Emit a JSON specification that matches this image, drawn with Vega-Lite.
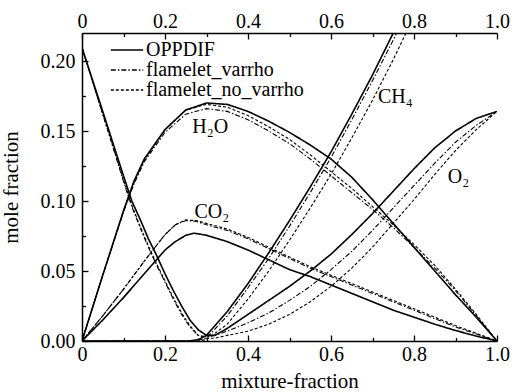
{
  "$schema": "https://vega.github.io/schema/vega-lite/v6.json",
  "width": 415,
  "height": 308,
  "autosize": {"type": "none"},
  "padding": {"left": 82, "top": 33, "right": 25, "bottom": 51},
  "background": "white",
  "config": {
    "view": {"stroke": null},
    "axis": {
      "grid": false,
      "domainColor": "black",
      "domainWidth": 1.5,
      "tickColor": "black",
      "tickWidth": 1.3,
      "labelFont": "Liberation Serif",
      "labelFontSize": 20,
      "labelColor": "black",
      "titleFont": "Liberation Serif",
      "titleFontSize": 21,
      "titleFontWeight": "normal",
      "titleColor": "black",
      "labelFlush": false,
      "labelOverlap": false
    }
  },
  "resolve": {"axis": {"x": "independent", "y": "independent"}},
  "datasets": {
    "curves": [
      {"s":"O2","m":"OPPDIF","x":0,"y":0.2095},{"s":"O2","m":"OPPDIF","x":0.05,"y":0.164},{"s":"O2","m":"OPPDIF","x":0.1,"y":0.118},{"s":"O2","m":"OPPDIF","x":0.12,"y":0.1},{"s":"O2","m":"OPPDIF","x":0.14,"y":0.087},{"s":"O2","m":"OPPDIF","x":0.16,"y":0.073},{"s":"O2","m":"OPPDIF","x":0.18,"y":0.061},{"s":"O2","m":"OPPDIF","x":0.2,"y":0.048},{"s":"O2","m":"OPPDIF","x":0.22,"y":0.036},{"s":"O2","m":"OPPDIF","x":0.24,"y":0.025},{"s":"O2","m":"OPPDIF","x":0.26,"y":0.015},{"s":"O2","m":"OPPDIF","x":0.28,"y":0.008},{"s":"O2","m":"OPPDIF","x":0.3,"y":0.004},{"s":"O2","m":"OPPDIF","x":0.32,"y":0.004},{"s":"O2","m":"OPPDIF","x":0.35,"y":0.009},{"s":"O2","m":"OPPDIF","x":0.4,"y":0.019},{"s":"O2","m":"OPPDIF","x":0.45,"y":0.029},{"s":"O2","m":"OPPDIF","x":0.5,"y":0.039},{"s":"O2","m":"OPPDIF","x":0.55,"y":0.05},{"s":"O2","m":"OPPDIF","x":0.6,"y":0.062},{"s":"O2","m":"OPPDIF","x":0.65,"y":0.076},{"s":"O2","m":"OPPDIF","x":0.7,"y":0.091},{"s":"O2","m":"OPPDIF","x":0.75,"y":0.107},{"s":"O2","m":"OPPDIF","x":0.8,"y":0.123},{"s":"O2","m":"OPPDIF","x":0.85,"y":0.138},{"s":"O2","m":"OPPDIF","x":0.9,"y":0.15},{"s":"O2","m":"OPPDIF","x":0.95,"y":0.159},{"s":"O2","m":"OPPDIF","x":1,"y":0.164},
      {"s":"O2","m":"flamelet_varrho","x":0,"y":0.2095},{"s":"O2","m":"flamelet_varrho","x":0.05,"y":0.162},{"s":"O2","m":"flamelet_varrho","x":0.1,"y":0.114},{"s":"O2","m":"flamelet_varrho","x":0.12,"y":0.096},{"s":"O2","m":"flamelet_varrho","x":0.14,"y":0.081},{"s":"O2","m":"flamelet_varrho","x":0.16,"y":0.067},{"s":"O2","m":"flamelet_varrho","x":0.18,"y":0.054},{"s":"O2","m":"flamelet_varrho","x":0.2,"y":0.042},{"s":"O2","m":"flamelet_varrho","x":0.22,"y":0.03},{"s":"O2","m":"flamelet_varrho","x":0.24,"y":0.019},{"s":"O2","m":"flamelet_varrho","x":0.26,"y":0.01},{"s":"O2","m":"flamelet_varrho","x":0.28,"y":0.004},{"s":"O2","m":"flamelet_varrho","x":0.3,"y":0.003},{"s":"O2","m":"flamelet_varrho","x":0.32,"y":0.004},{"s":"O2","m":"flamelet_varrho","x":0.35,"y":0.007},{"s":"O2","m":"flamelet_varrho","x":0.4,"y":0.013},{"s":"O2","m":"flamelet_varrho","x":0.45,"y":0.02},{"s":"O2","m":"flamelet_varrho","x":0.5,"y":0.029},{"s":"O2","m":"flamelet_varrho","x":0.55,"y":0.039},{"s":"O2","m":"flamelet_varrho","x":0.6,"y":0.051},{"s":"O2","m":"flamelet_varrho","x":0.65,"y":0.064},{"s":"O2","m":"flamelet_varrho","x":0.7,"y":0.079},{"s":"O2","m":"flamelet_varrho","x":0.75,"y":0.095},{"s":"O2","m":"flamelet_varrho","x":0.8,"y":0.111},{"s":"O2","m":"flamelet_varrho","x":0.85,"y":0.127},{"s":"O2","m":"flamelet_varrho","x":0.9,"y":0.142},{"s":"O2","m":"flamelet_varrho","x":0.95,"y":0.154},{"s":"O2","m":"flamelet_varrho","x":1,"y":0.164},
      {"s":"O2","m":"flamelet_no_varrho","x":0,"y":0.2095},{"s":"O2","m":"flamelet_no_varrho","x":0.05,"y":0.162},{"s":"O2","m":"flamelet_no_varrho","x":0.1,"y":0.115},{"s":"O2","m":"flamelet_no_varrho","x":0.12,"y":0.097},{"s":"O2","m":"flamelet_no_varrho","x":0.14,"y":0.082},{"s":"O2","m":"flamelet_no_varrho","x":0.16,"y":0.068},{"s":"O2","m":"flamelet_no_varrho","x":0.18,"y":0.055},{"s":"O2","m":"flamelet_no_varrho","x":0.2,"y":0.043},{"s":"O2","m":"flamelet_no_varrho","x":0.22,"y":0.031},{"s":"O2","m":"flamelet_no_varrho","x":0.24,"y":0.02},{"s":"O2","m":"flamelet_no_varrho","x":0.26,"y":0.011},{"s":"O2","m":"flamelet_no_varrho","x":0.28,"y":0.004},{"s":"O2","m":"flamelet_no_varrho","x":0.3,"y":0.002},{"s":"O2","m":"flamelet_no_varrho","x":0.32,"y":0.002},{"s":"O2","m":"flamelet_no_varrho","x":0.35,"y":0.004},{"s":"O2","m":"flamelet_no_varrho","x":0.4,"y":0.007},{"s":"O2","m":"flamelet_no_varrho","x":0.45,"y":0.012},{"s":"O2","m":"flamelet_no_varrho","x":0.5,"y":0.019},{"s":"O2","m":"flamelet_no_varrho","x":0.55,"y":0.028},{"s":"O2","m":"flamelet_no_varrho","x":0.6,"y":0.039},{"s":"O2","m":"flamelet_no_varrho","x":0.65,"y":0.052},{"s":"O2","m":"flamelet_no_varrho","x":0.7,"y":0.067},{"s":"O2","m":"flamelet_no_varrho","x":0.75,"y":0.084},{"s":"O2","m":"flamelet_no_varrho","x":0.8,"y":0.101},{"s":"O2","m":"flamelet_no_varrho","x":0.85,"y":0.119},{"s":"O2","m":"flamelet_no_varrho","x":0.9,"y":0.136},{"s":"O2","m":"flamelet_no_varrho","x":0.95,"y":0.151},{"s":"O2","m":"flamelet_no_varrho","x":1,"y":0.164},
      {"s":"H2O","m":"OPPDIF","x":0,"y":0},{"s":"H2O","m":"OPPDIF","x":0.05,"y":0.047},{"s":"H2O","m":"OPPDIF","x":0.1,"y":0.093},{"s":"H2O","m":"OPPDIF","x":0.125,"y":0.114},{"s":"H2O","m":"OPPDIF","x":0.15,"y":0.13},{"s":"H2O","m":"OPPDIF","x":0.2,"y":0.151},{"s":"H2O","m":"OPPDIF","x":0.25,"y":0.165},{"s":"H2O","m":"OPPDIF","x":0.3,"y":0.17},{"s":"H2O","m":"OPPDIF","x":0.35,"y":0.169},{"s":"H2O","m":"OPPDIF","x":0.4,"y":0.164},{"s":"H2O","m":"OPPDIF","x":0.45,"y":0.157},{"s":"H2O","m":"OPPDIF","x":0.5,"y":0.149},{"s":"H2O","m":"OPPDIF","x":0.55,"y":0.14},{"s":"H2O","m":"OPPDIF","x":0.6,"y":0.13},{"s":"H2O","m":"OPPDIF","x":0.65,"y":0.117},{"s":"H2O","m":"OPPDIF","x":0.7,"y":0.101},{"s":"H2O","m":"OPPDIF","x":0.75,"y":0.084},{"s":"H2O","m":"OPPDIF","x":0.8,"y":0.067},{"s":"H2O","m":"OPPDIF","x":0.85,"y":0.05},{"s":"H2O","m":"OPPDIF","x":0.9,"y":0.033},{"s":"H2O","m":"OPPDIF","x":0.95,"y":0.017},{"s":"H2O","m":"OPPDIF","x":1,"y":0},
      {"s":"H2O","m":"flamelet_varrho","x":0,"y":0},{"s":"H2O","m":"flamelet_varrho","x":0.05,"y":0.047},{"s":"H2O","m":"flamelet_varrho","x":0.1,"y":0.092},{"s":"H2O","m":"flamelet_varrho","x":0.125,"y":0.112},{"s":"H2O","m":"flamelet_varrho","x":0.15,"y":0.128},{"s":"H2O","m":"flamelet_varrho","x":0.2,"y":0.149},{"s":"H2O","m":"flamelet_varrho","x":0.25,"y":0.162},{"s":"H2O","m":"flamelet_varrho","x":0.3,"y":0.166},{"s":"H2O","m":"flamelet_varrho","x":0.35,"y":0.164},{"s":"H2O","m":"flamelet_varrho","x":0.4,"y":0.158},{"s":"H2O","m":"flamelet_varrho","x":0.45,"y":0.15},{"s":"H2O","m":"flamelet_varrho","x":0.5,"y":0.141},{"s":"H2O","m":"flamelet_varrho","x":0.55,"y":0.13},{"s":"H2O","m":"flamelet_varrho","x":0.6,"y":0.118},{"s":"H2O","m":"flamelet_varrho","x":0.65,"y":0.106},{"s":"H2O","m":"flamelet_varrho","x":0.7,"y":0.094},{"s":"H2O","m":"flamelet_varrho","x":0.75,"y":0.081},{"s":"H2O","m":"flamelet_varrho","x":0.8,"y":0.067},{"s":"H2O","m":"flamelet_varrho","x":0.85,"y":0.052},{"s":"H2O","m":"flamelet_varrho","x":0.9,"y":0.036},{"s":"H2O","m":"flamelet_varrho","x":0.95,"y":0.018},{"s":"H2O","m":"flamelet_varrho","x":1,"y":0},
      {"s":"H2O","m":"flamelet_no_varrho","x":0,"y":0},{"s":"H2O","m":"flamelet_no_varrho","x":0.05,"y":0.047},{"s":"H2O","m":"flamelet_no_varrho","x":0.1,"y":0.093},{"s":"H2O","m":"flamelet_no_varrho","x":0.125,"y":0.113},{"s":"H2O","m":"flamelet_no_varrho","x":0.15,"y":0.129},{"s":"H2O","m":"flamelet_no_varrho","x":0.2,"y":0.151},{"s":"H2O","m":"flamelet_no_varrho","x":0.25,"y":0.165},{"s":"H2O","m":"flamelet_no_varrho","x":0.3,"y":0.169},{"s":"H2O","m":"flamelet_no_varrho","x":0.35,"y":0.167},{"s":"H2O","m":"flamelet_no_varrho","x":0.4,"y":0.161},{"s":"H2O","m":"flamelet_no_varrho","x":0.45,"y":0.153},{"s":"H2O","m":"flamelet_no_varrho","x":0.5,"y":0.144},{"s":"H2O","m":"flamelet_no_varrho","x":0.55,"y":0.133},{"s":"H2O","m":"flamelet_no_varrho","x":0.6,"y":0.121},{"s":"H2O","m":"flamelet_no_varrho","x":0.65,"y":0.109},{"s":"H2O","m":"flamelet_no_varrho","x":0.7,"y":0.096},{"s":"H2O","m":"flamelet_no_varrho","x":0.75,"y":0.083},{"s":"H2O","m":"flamelet_no_varrho","x":0.8,"y":0.069},{"s":"H2O","m":"flamelet_no_varrho","x":0.85,"y":0.054},{"s":"H2O","m":"flamelet_no_varrho","x":0.9,"y":0.037},{"s":"H2O","m":"flamelet_no_varrho","x":0.95,"y":0.019},{"s":"H2O","m":"flamelet_no_varrho","x":1,"y":0},
      {"s":"CO2","m":"OPPDIF","x":0,"y":0},{"s":"CO2","m":"OPPDIF","x":0.05,"y":0.015},{"s":"CO2","m":"OPPDIF","x":0.1,"y":0.031},{"s":"CO2","m":"OPPDIF","x":0.15,"y":0.048},{"s":"CO2","m":"OPPDIF","x":0.2,"y":0.065},{"s":"CO2","m":"OPPDIF","x":0.225,"y":0.071},{"s":"CO2","m":"OPPDIF","x":0.25,"y":0.0755},{"s":"CO2","m":"OPPDIF","x":0.27,"y":0.077},{"s":"CO2","m":"OPPDIF","x":0.3,"y":0.0755},{"s":"CO2","m":"OPPDIF","x":0.35,"y":0.071},{"s":"CO2","m":"OPPDIF","x":0.4,"y":0.065},{"s":"CO2","m":"OPPDIF","x":0.45,"y":0.058},{"s":"CO2","m":"OPPDIF","x":0.5,"y":0.051},{"s":"CO2","m":"OPPDIF","x":0.55,"y":0.046},{"s":"CO2","m":"OPPDIF","x":0.6,"y":0.04},{"s":"CO2","m":"OPPDIF","x":0.65,"y":0.034},{"s":"CO2","m":"OPPDIF","x":0.7,"y":0.028},{"s":"CO2","m":"OPPDIF","x":0.75,"y":0.022},{"s":"CO2","m":"OPPDIF","x":0.8,"y":0.017},{"s":"CO2","m":"OPPDIF","x":0.85,"y":0.012},{"s":"CO2","m":"OPPDIF","x":0.9,"y":0.0075},{"s":"CO2","m":"OPPDIF","x":0.95,"y":0.0035},{"s":"CO2","m":"OPPDIF","x":1,"y":0},
      {"s":"CO2","m":"flamelet_varrho","x":0,"y":0},{"s":"CO2","m":"flamelet_varrho","x":0.05,"y":0.018},{"s":"CO2","m":"flamelet_varrho","x":0.1,"y":0.037},{"s":"CO2","m":"flamelet_varrho","x":0.15,"y":0.057},{"s":"CO2","m":"flamelet_varrho","x":0.2,"y":0.076},{"s":"CO2","m":"flamelet_varrho","x":0.225,"y":0.083},{"s":"CO2","m":"flamelet_varrho","x":0.25,"y":0.086},{"s":"CO2","m":"flamelet_varrho","x":0.275,"y":0.0855},{"s":"CO2","m":"flamelet_varrho","x":0.3,"y":0.083},{"s":"CO2","m":"flamelet_varrho","x":0.35,"y":0.079},{"s":"CO2","m":"flamelet_varrho","x":0.4,"y":0.073},{"s":"CO2","m":"flamelet_varrho","x":0.45,"y":0.066},{"s":"CO2","m":"flamelet_varrho","x":0.5,"y":0.059},{"s":"CO2","m":"flamelet_varrho","x":0.55,"y":0.052},{"s":"CO2","m":"flamelet_varrho","x":0.6,"y":0.046},{"s":"CO2","m":"flamelet_varrho","x":0.65,"y":0.04},{"s":"CO2","m":"flamelet_varrho","x":0.7,"y":0.034},{"s":"CO2","m":"flamelet_varrho","x":0.75,"y":0.028},{"s":"CO2","m":"flamelet_varrho","x":0.8,"y":0.022},{"s":"CO2","m":"flamelet_varrho","x":0.85,"y":0.016},{"s":"CO2","m":"flamelet_varrho","x":0.9,"y":0.01},{"s":"CO2","m":"flamelet_varrho","x":0.95,"y":0.005},{"s":"CO2","m":"flamelet_varrho","x":1,"y":0},
      {"s":"CO2","m":"flamelet_no_varrho","x":0,"y":0},{"s":"CO2","m":"flamelet_no_varrho","x":0.05,"y":0.018},{"s":"CO2","m":"flamelet_no_varrho","x":0.1,"y":0.037},{"s":"CO2","m":"flamelet_no_varrho","x":0.15,"y":0.057},{"s":"CO2","m":"flamelet_no_varrho","x":0.2,"y":0.076},{"s":"CO2","m":"flamelet_no_varrho","x":0.225,"y":0.083},{"s":"CO2","m":"flamelet_no_varrho","x":0.25,"y":0.0865},{"s":"CO2","m":"flamelet_no_varrho","x":0.275,"y":0.086},{"s":"CO2","m":"flamelet_no_varrho","x":0.3,"y":0.084},{"s":"CO2","m":"flamelet_no_varrho","x":0.35,"y":0.08},{"s":"CO2","m":"flamelet_no_varrho","x":0.4,"y":0.074},{"s":"CO2","m":"flamelet_no_varrho","x":0.45,"y":0.067},{"s":"CO2","m":"flamelet_no_varrho","x":0.5,"y":0.06},{"s":"CO2","m":"flamelet_no_varrho","x":0.55,"y":0.053},{"s":"CO2","m":"flamelet_no_varrho","x":0.6,"y":0.047},{"s":"CO2","m":"flamelet_no_varrho","x":0.65,"y":0.041},{"s":"CO2","m":"flamelet_no_varrho","x":0.7,"y":0.035},{"s":"CO2","m":"flamelet_no_varrho","x":0.75,"y":0.029},{"s":"CO2","m":"flamelet_no_varrho","x":0.8,"y":0.023},{"s":"CO2","m":"flamelet_no_varrho","x":0.85,"y":0.017},{"s":"CO2","m":"flamelet_no_varrho","x":0.9,"y":0.011},{"s":"CO2","m":"flamelet_no_varrho","x":0.95,"y":0.0055},{"s":"CO2","m":"flamelet_no_varrho","x":1,"y":0},
      {"s":"CH4","m":"OPPDIF","x":0,"y":0},{"s":"CH4","m":"OPPDIF","x":0.26,"y":0},{"s":"CH4","m":"OPPDIF","x":0.28,"y":0.001},{"s":"CH4","m":"OPPDIF","x":0.3,"y":0.004},{"s":"CH4","m":"OPPDIF","x":0.35,"y":0.021},{"s":"CH4","m":"OPPDIF","x":0.4,"y":0.041},{"s":"CH4","m":"OPPDIF","x":0.45,"y":0.063},{"s":"CH4","m":"OPPDIF","x":0.5,"y":0.086},{"s":"CH4","m":"OPPDIF","x":0.55,"y":0.11},{"s":"CH4","m":"OPPDIF","x":0.6,"y":0.135},{"s":"CH4","m":"OPPDIF","x":0.65,"y":0.162},{"s":"CH4","m":"OPPDIF","x":0.7,"y":0.19},{"s":"CH4","m":"OPPDIF","x":0.75,"y":0.22},{"s":"CH4","m":"OPPDIF","x":0.8,"y":0.251},
      {"s":"CH4","m":"flamelet_varrho","x":0,"y":0},{"s":"CH4","m":"flamelet_varrho","x":0.27,"y":0},{"s":"CH4","m":"flamelet_varrho","x":0.3,"y":0.002},{"s":"CH4","m":"flamelet_varrho","x":0.35,"y":0.018},{"s":"CH4","m":"flamelet_varrho","x":0.4,"y":0.038},{"s":"CH4","m":"flamelet_varrho","x":0.45,"y":0.059},{"s":"CH4","m":"flamelet_varrho","x":0.5,"y":0.082},{"s":"CH4","m":"flamelet_varrho","x":0.55,"y":0.106},{"s":"CH4","m":"flamelet_varrho","x":0.6,"y":0.131},{"s":"CH4","m":"flamelet_varrho","x":0.65,"y":0.158},{"s":"CH4","m":"flamelet_varrho","x":0.7,"y":0.186},{"s":"CH4","m":"flamelet_varrho","x":0.75,"y":0.215},{"s":"CH4","m":"flamelet_varrho","x":0.8,"y":0.246},
      {"s":"CH4","m":"flamelet_no_varrho","x":0,"y":0},{"s":"CH4","m":"flamelet_no_varrho","x":0.28,"y":0},{"s":"CH4","m":"flamelet_no_varrho","x":0.3,"y":0.001},{"s":"CH4","m":"flamelet_no_varrho","x":0.35,"y":0.012},{"s":"CH4","m":"flamelet_no_varrho","x":0.4,"y":0.03},{"s":"CH4","m":"flamelet_no_varrho","x":0.45,"y":0.05},{"s":"CH4","m":"flamelet_no_varrho","x":0.5,"y":0.072},{"s":"CH4","m":"flamelet_no_varrho","x":0.55,"y":0.095},{"s":"CH4","m":"flamelet_no_varrho","x":0.6,"y":0.119},{"s":"CH4","m":"flamelet_no_varrho","x":0.65,"y":0.145},{"s":"CH4","m":"flamelet_no_varrho","x":0.7,"y":0.172},{"s":"CH4","m":"flamelet_no_varrho","x":0.75,"y":0.201},{"s":"CH4","m":"flamelet_no_varrho","x":0.8,"y":0.232}
    ],
    "labels": [
      {"t":"H₂O","x":0.309,"y":0.1526},
      {"t":"CO₂","x":0.313,"y":0.0925},
      {"t":"CH₄","x":0.755,"y":0.174},
      {"t":"O₂","x":0.907,"y":0.117}
    ]
  },
  "layer": [
    {
      "data": {"name": "curves"},
      "transform": [{"filter": "datum.m == 'OPPDIF'"}],
      "mark": {"type": "line", "clip": true, "color": "black", "strokeWidth": 1.6},
      "encoding": {
        "x": {
          "field": "x", "type": "quantitative",
          "scale": {"domain": [0, 1], "nice": false, "zero": false},
          "axis": {
            "orient": "bottom",
            "title": "mixture-fraction",
            "values": [0, 0.2, 0.4, 0.6, 0.8, 1],
            "labelExpr": "datum.value == 0 ? '0' : format(datum.value, '.1f')",
            "ticks": true, "tickSize": -6,
            "labelPadding": 9,
            "titlePadding": 6
          }
        },
        "y": {
          "field": "y", "type": "quantitative",
          "scale": {"domain": [0, 0.22], "nice": false},
          "axis": {
            "orient": "left",
            "title": "mole fraction",
            "values": [0, 0.05, 0.1, 0.15, 0.2],
            "format": ".2f",
            "ticks": true, "tickSize": -6,
            "labelPadding": 13,
            "titlePadding": 19
          }
        },
        "detail": {"field": "s"},
        "strokeDash": {
          "field": "m", "type": "nominal",
          "scale": {"domain": ["OPPDIF", "flamelet_varrho", "flamelet_no_varrho"], "range": [[1, 0], [5, 2, 1.5, 2], [3, 2]]},
          "legend": {
            "title": null,
            "orient": "none",
            "legendX": 35,
            "legendY": 7,
            "symbolType": "M-1.9,0H1.9",
            "symbolSize": 289,
            "symbolStrokeColor": "black",
            "symbolFillColor": "transparent",
            "symbolStrokeWidth": 1.4,
            "labelFont": "Liberation Serif",
            "labelFontSize": 20,
            "labelColor": "black",
            "labelOffset": 9,
            "rowPadding": 0,
            "padding": 0
          }
        }
      }
    },
    {
      "data": {"name": "curves"},
      "transform": [{"filter": "datum.m == 'flamelet_varrho'"}],
      "mark": {"type": "line", "clip": true, "color": "black", "strokeWidth": 1.1},
      "encoding": {
        "x": {
          "field": "x", "type": "quantitative",
          "scale": {"domain": [0, 1], "nice": false, "zero": false},
          "axis": {
            "orient": "bottom", "title": null,
            "values": [0.1, 0.3, 0.5, 0.7, 0.9],
            "labels": false, "domain": false,
            "ticks": true,
            "tickSize": 3.5, "offset": -3.5
          }
        },
        "y": {
          "field": "y", "type": "quantitative",
          "scale": {"domain": [0, 0.22], "nice": false},
          "axis": {
            "orient": "left", "title": null,
            "values": [0.025, 0.075, 0.125, 0.175],
            "labels": false, "domain": false,
            "ticks": true,
            "tickSize": 3.5, "offset": -3.5
          }
        },
        "detail": {"field": "s"},
        "strokeDash": {
          "field": "m", "type": "nominal",
          "scale": {"domain": ["OPPDIF", "flamelet_varrho", "flamelet_no_varrho"], "range": [[1, 0], [5, 2, 1.5, 2], [3, 2]]}
        }
      }
    },
    {
      "data": {"name": "curves"},
      "transform": [{"filter": "datum.m == 'flamelet_no_varrho'"}],
      "mark": {"type": "line", "clip": true, "color": "black", "strokeWidth": 1.1},
      "encoding": {
        "x": {
          "field": "x", "type": "quantitative",
          "scale": {"domain": [0, 1], "nice": false, "zero": false},
          "axis": {
            "orient": "top", "title": null,
            "values": [0, 0.2, 0.4, 0.6, 0.8, 1],
            "labelExpr": "datum.value == 0 ? '0' : format(datum.value, '.1f')",
            "ticks": true, "tickSize": -6,
            "labelPadding": 8
          }
        },
        "y": {
          "field": "y", "type": "quantitative",
          "scale": {"domain": [0, 0.22], "nice": false},
          "axis": null
        },
        "detail": {"field": "s"},
        "strokeDash": {
          "field": "m", "type": "nominal",
          "scale": {"domain": ["OPPDIF", "flamelet_varrho", "flamelet_no_varrho"], "range": [[1, 0], [5, 2, 1.5, 2], [3, 2]]}
        }
      }
    },
    {
      "data": {"name": "labels"},
      "mark": {"type": "text", "font": "Liberation Serif", "fontSize": 20, "color": "black", "align": "center", "baseline": "middle"},
      "encoding": {
        "x": {
          "field": "x", "type": "quantitative",
          "scale": {"domain": [0, 1], "nice": false, "zero": false},
          "axis": {
            "orient": "top", "title": null,
            "values": [0.1, 0.3, 0.5, 0.7, 0.9],
            "labels": false, "domain": false,
            "ticks": true,
            "tickSize": 3.5, "offset": -3.5
          }
        },
        "y": {"field": "y", "type": "quantitative", "scale": {"domain": [0, 0.22], "nice": false}, "axis": null},
        "text": {"field": "t"}
      }
    }
  ]
}
